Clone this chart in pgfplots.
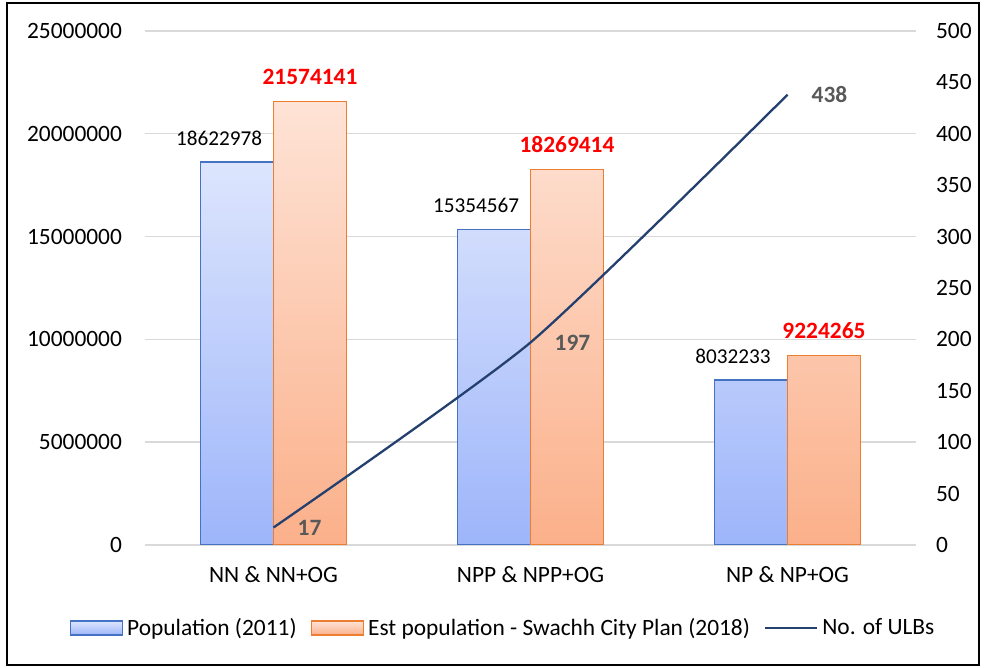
\documentclass[border=0pt]{standalone}
\usepackage{fontspec}
\setmainfont{Carlito}
\usepackage{pgfplots}
\pgfplotsset{compat=1.18}
\definecolor{popedge}{HTML}{4472C4}
\definecolor{poptop}{HTML}{DDE5FD}
\definecolor{popbot}{HTML}{9DB5FA}
\definecolor{estedge}{HTML}{ED7D31}
\definecolor{esttop}{HTML}{FEE3D6}
\definecolor{estbot}{HTML}{FBB08A}
\definecolor{ulbline}{HTML}{24406F}
\definecolor{gridgray}{HTML}{D9D9D9}
\definecolor{lblgray}{HTML}{595959}
\newcommand{\cf}{\fontsize{11.7}{14}\selectfont}
\newcommand{\smf}{\fontsize{10.6}{13}\selectfont}

\pgfplotsset{
  common/.style={
    scale only axis, width=385.5pt, height=257pt,
    xmin=-0.5, xmax=2.5,
    axis line style={draw=none},
    major tick length=0pt,
    tick label style={font=\cf},
    scaled y ticks=false,
    /pgf/number format/assume math mode=true,
  },
  barleg/.style={legend image code/.code={\draw[##1] (0pt,-3.5pt) rectangle (26pt,3.5pt);}},
  lineleg/.style={legend image code/.code={\draw[##1] (0pt,0pt) -- (26pt,0pt);}},
  popbar/.style={draw=popedge, line width=0.75pt, top color=poptop, bottom color=popbot},
  estbar/.style={draw=estedge, line width=0.75pt, top color=esttop, bottom color=estbot},
}

\begin{document}
\begin{tikzpicture}
% bars, left axis
\begin{axis}[common, name=ax,
  ybar=0pt, bar width=0.284,
  ymin=0, ymax=25000000,
  ytick={0,5000000,10000000,15000000,20000000,25000000},
  yticklabels={0,5000000,10000000,15000000,20000000,25000000},
  yticklabel style={xshift=-8pt},
  xtick={0,1,2},
  xticklabels={NN \& NN+OG, NPP \& NPP+OG, NP \& NP+OG},
  xticklabel style={yshift=-7pt},
  ymajorgrids=true, grid style={gridgray, line width=0.7pt},
  point meta=explicit symbolic,
]
\addplot[popbar, nodes near coords,
  every node near coord/.append style={anchor=center, xshift=-9pt, yshift=12pt, font=\smf, text=black}]
  coordinates {
  (0,18622978) [18622978]
  (1,15354567) [15354567]
  (2,8032233) [8032233]
};
\addplot[estbar, nodes near coords,
  every node near coord/.append style={anchor=center, yshift=12.5pt, font=\cf\bfseries, text=red}]
  coordinates {
  (0,21574141) [21574141]
  (1,18269414) [18269414]
  (2,9224265) [9224265]
};
\end{axis}
% line, right axis
\begin{axis}[common,
  axis y line*=right, axis x line=none,
  ymin=0, ymax=500,
  ytick={0,50,...,500},
  yticklabel style={xshift=6.5pt},
  point meta=explicit symbolic,
  legend style={at={(0.4656,-0.1615)}, anchor=center, draw=none, fill=none,
    font=\cf, legend columns=-1,
    /tikz/every even column/.append style={column sep=5pt},
    nodes={inner sep=2pt}},
]
\addlegendimage{popbar, barleg}
\addlegendentry{Population (2011)}
\addlegendimage{estbar, barleg}
\addlegendentry{Est population - Swachh City Plan (2018)}
\addplot[ulbline, line width=1.15pt, smooth, tension=0.35, no markers, lineleg,
  nodes near coords,
  every node near coord/.style={anchor=west, inner sep=0pt, xshift=11.5pt, font=\cf\bfseries, text=lblgray}]
  coordinates {
  (0,17) [17]
  (1,197) [197]
  (2,438) [438]
};
\addlegendentry{No. of ULBs}
\end{axis}
\draw[black, line width=1pt] ([shift={(-69pt,-60pt)}]ax.south west) rectangle ([shift={(417pt,271pt)}]ax.south west);
\path[use as bounding box] ([shift={(-72.5pt,-61.5pt)}]ax.south west) rectangle ([shift={(419.5pt,272.5pt)}]ax.south west);
\end{tikzpicture}
\end{document}
